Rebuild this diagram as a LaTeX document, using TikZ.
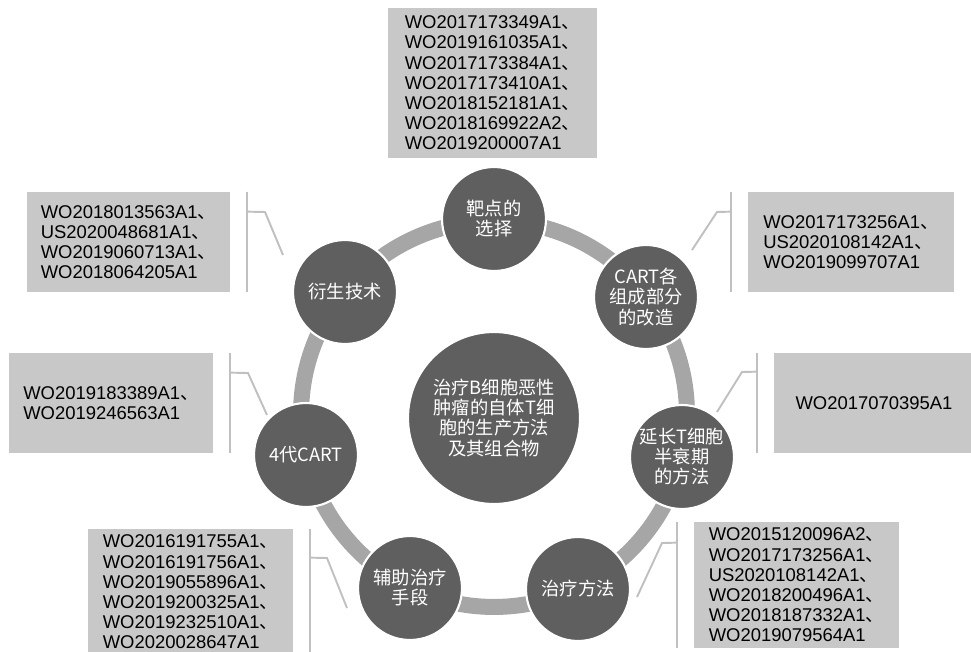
\documentclass[tikz,border=0pt]{standalone}
\usepackage{fontspec}
\setmainfont{Liberation Sans}
\newfontfamily\cjk{Noto Sans CJK SC}
\definecolor{discgray}{RGB}{95, 95, 95}
\definecolor{ringgray}{RGB}{166, 166, 166}
\definecolor{boxgray}{RGB}{200, 200, 200}
\definecolor{leadgray}{RGB}{192, 192, 192}
\newcommand{\dun}{{\cjk 、}}
\tikzset{topic/.style={draw=white, line width=1.2pt, circle, fill=discgray, minimum size=2.08cm,
        inner sep=0pt, align=center, text=white, font=\cjk\fontsize{10.4}{11.4}\selectfont}}
\tikzset{hub/.style={topic, minimum size=3.44cm}}
\tikzset{patents/.style={fill=boxgray, inner sep=0pt, align=left, font=\fontsize{10.5}{11.5}\selectfont}}
\tikzset{ring/.style={line width=0.32cm, color=ringgray}}
\tikzset{lead/.style={line width=1.1pt, color=leadgray}}

\begin{document}
\begin{tikzpicture}[x=0.02cm, y=-0.02cm]%{{{
        \useasboundingbox (0, 0) rectangle (971, 652);

        \coordinate (O) at (494, 414);
        \draw [ring] (O) circle [radius=3.86cm];

        \node[hub] (hub) at (494, 418) {治疗B细胞恶性\\肿瘤的自体T细\\胞的生产方法\\及其组合物};

        \node[topic] (N1) at (494, 219) {靶点的\\选择};
        \node[topic] (N2) at (646, 297) {CART各\\组成部分\\的改造};
        \node[topic] (N3) at (682, 457) {延长T细胞\\半衰期\\的方法};
        \node[topic] (N4) at (578, 589) {治疗方法};
        \node[topic] (N5) at (410, 588) {辅助治疗\\手段};
        \node[topic] (N6) at (306, 455) {4代CART};
        \node[topic] (N7) at (345, 292) {衍生技术};

        \node[patents, minimum width=4.18cm, minimum height=3cm] (P1) at (492.5, 83)
        {WO2017173349A1\dun\\WO2019161035A1\dun\\WO2017173384A1\dun\\WO2017173410A1\dun\\
         WO2018152181A1\dun\\WO2018169922A2\dun\\WO2019200007A1};
        \node[patents, minimum width=4.12cm, minimum height=2cm] (P2) at (851, 242)
        {WO2017173256A1\dun\\US2020108142A1\dun\\WO2019099707A1};
        \node[patents, minimum width=4cm, minimum height=2cm] (P3) at (874, 403)
        {WO2017070395A1};
        \node[patents, minimum width=4.1cm, minimum height=2.52cm] (P4) at (796.5, 585)
        {WO2015120096A2\dun\\WO2017173256A1\dun\\US2020108142A1\dun\\WO2018200496A1\dun\\
         WO2018187332A1\dun\\WO2019079564A1};
        \node[patents, minimum width=4.1cm, minimum height=2.52cm] (P5) at (190.5, 592)
        {WO2016191755A1\dun\\WO2016191756A1\dun\\WO2019055896A1\dun\\WO2019200325A1\dun\\
         WO2019232510A1\dun\\WO2020028647A1};
        \node[patents, minimum width=4.08cm, minimum height=2cm] (P6) at (111, 403)
        {WO2019183389A1\dun\\WO2019246563A1};
        \node[patents, minimum width=4.06cm, minimum height=2cm] (P7) at (128.5, 242)
        {WO2018013563A1\dun\\US2020048681A1\dun\\WO2019060713A1\dun\\WO2018064205A1};

        % brackets beside the boxes
        \draw [lead] ([xshift=-0.34cm]P2.north west) -- ([xshift=-0.34cm]P2.south west);
        \draw [lead] ([xshift=-0.34cm]P3.north west) -- ([xshift=-0.34cm]P3.south west);
        \draw [lead] ([xshift=-0.34cm]P4.north west) -- ([xshift=-0.34cm]P4.south west);
        \draw [lead] ([xshift=0.34cm]P5.north east) -- ([xshift=0.34cm]P5.south east);
        \draw [lead] ([xshift=0.34cm]P6.north east) -- ([xshift=0.34cm]P6.south east);
        \draw [lead] ([xshift=0.34cm]P7.north east) -- ([xshift=0.34cm]P7.south east);

        \coordinate (K2) at (717, 212);  \coordinate (E2) at (692, 250);
        \coordinate (K3) at (742, 372);  \coordinate (E3) at (717, 412);
        \coordinate (K4) at (662, 543);  \coordinate (E4) at (637, 597);
        \coordinate (K5) at (327, 558);  \coordinate (E5) at (347, 608);
        \coordinate (K6) at (248, 373);  \coordinate (E6) at (267, 415);
        \coordinate (K7) at (265, 212);  \coordinate (E7) at (283, 255);

        \draw [lead] ([xshift=-0.34cm, yshift=-0.4cm]P2.north west) -- (K2) -- (E2);
        \draw [lead] ([xshift=-0.34cm, yshift=-0.38cm]P3.north west) -- (K3) -- (E3);
        \draw [lead] ([xshift=-0.34cm, yshift=-0.42cm]P4.north west) -- (K4) -- (E4);
        \draw [lead] ([xshift=0.34cm, yshift=-0.58cm]P5.north east) -- (K5) -- (E5);
        \draw [lead] ([xshift=0.34cm, yshift=-0.4cm]P6.north east) -- (K6) -- (E6);
        \draw [lead] ([xshift=0.34cm, yshift=-0.4cm]P7.north east) -- (K7) -- (E7);
    \end{tikzpicture}%}}}
\end{document}
